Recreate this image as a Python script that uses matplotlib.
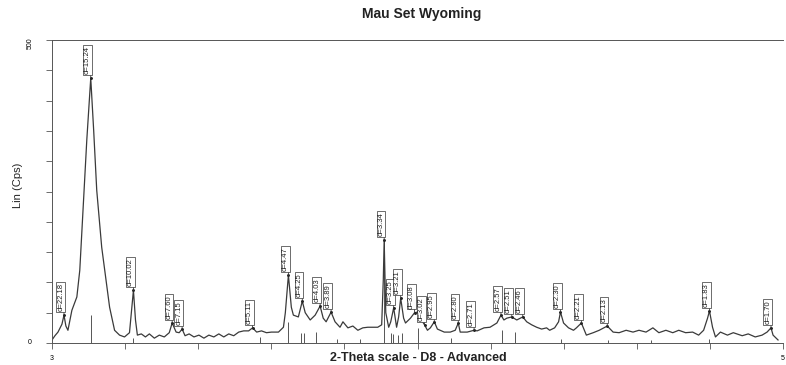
import matplotlib
matplotlib.use("Agg")
import matplotlib.pyplot as plt

plt.rcParams['font.family'] = ['Liberation Sans', 'DejaVu Sans']

# ---- data (2-theta, Lin (Cps)) ----
two_theta = [3.00, 3.20, 3.41, 3.68, 3.82, 3.95, 4.09, 4.36, 4.70, 4.90, 5.11, 5.38, 5.65,
             5.85, 6.06, 6.40, 6.67, 6.94, 7.28, 7.62, 7.96, 8.30, 8.43, 8.57, 8.71, 8.84,
             9.11, 9.39, 9.66, 10.00, 10.34, 10.68, 11.02, 11.22, 11.49, 11.70, 11.90, 12.10,
             12.38, 12.71, 13.05, 13.39, 13.73, 14.07, 14.41, 14.75, 15.09, 15.43, 15.77,
             16.11, 16.45, 16.72, 17.00, 17.33, 17.67, 18.01, 18.49, 18.83, 18.96, 19.17,
             19.37, 19.51, 19.85, 20.12, 20.32, 20.66, 21.00, 21.34, 21.55, 21.75, 22.09,
             22.36, 22.70, 22.90, 23.24, 23.58, 23.92, 24.26, 24.60, 24.94, 25.28, 25.55,
             25.66, 25.72, 25.83, 26.03, 26.17, 26.37, 26.57, 26.71, 26.85, 27.05, 27.18,
             27.52, 27.80, 28.00, 28.20, 28.48, 28.68, 28.88, 29.15, 29.36, 29.83, 30.24,
             30.58, 30.79, 30.92, 31.40, 31.87, 32.08, 32.55, 32.96, 33.43, 33.71, 33.91,
             34.11, 34.45, 34.79, 35.20, 35.47, 35.81, 36.15, 36.49, 36.83, 37.04, 37.38,
             37.65, 37.78, 37.99, 38.33, 38.67, 38.87, 39.21, 39.55, 40.02, 40.43, 40.98,
             41.38, 41.79, 42.27, 42.74, 43.15, 43.63, 44.10, 44.51, 44.99, 45.46, 45.87,
             46.34, 46.82, 47.23, 47.57, 47.84, 47.97, 48.18, 48.38, 48.72, 49.20, 49.60,
             50.21, 50.62, 51.10, 51.57, 51.91, 52.18, 52.32, 52.66]
counts = [5, 12, 18, 31, 46, 28, 21, 54, 76, 120, 215, 335, 437,
          351, 252, 158, 109, 59, 21, 13, 10, 17, 50, 87, 38, 13,
          15, 10, 15, 8, 13, 10, 17, 33, 18, 17, 23, 12,
          15, 10, 13, 8, 13, 10, 15, 10, 15, 12, 18,
          20, 20, 25, 18, 20, 17, 18, 18, 26, 50, 112,
          59, 46, 43, 69, 50, 38, 46, 61, 41, 35, 51,
          35, 26, 35, 25, 28, 21, 25, 26, 26, 26, 30,
          104, 170, 50, 26, 35, 58, 26, 43, 74, 41, 33,
          41, 50, 51, 41, 30, 21, 25, 35, 23, 18, 18,
          21, 33, 18, 18, 21, 20, 25, 26, 33, 46, 38,
          41, 43, 38, 43, 35, 30, 26, 23, 25, 21, 25,
          35, 51, 33, 25, 21, 25, 33, 13, 17, 21, 28,
          18, 17, 21, 18, 21, 18, 25, 17, 21, 17, 21,
          17, 18, 13, 21, 41, 53, 26, 10, 18, 13, 17,
          12, 15, 10, 13, 18, 25, 13, 5]

# labelled peaks
peak_theta = [3.82, 5.65, 8.57, 11.22, 11.90, 16.72, 19.17, 20.12, 21.34, 22.09, 25.72,
              26.37, 26.85, 27.80, 28.48, 29.15, 30.79, 31.87, 33.71, 34.45, 35.20,
              37.78, 39.21, 40.98, 47.97, 52.18]
peak_counts = [46, 437, 87, 33, 23, 25, 112, 69, 61, 51, 170,
               58, 74, 50, 30, 35, 33, 21, 46, 43, 43,
               51, 33, 28, 53, 25]
peak_labels = ["d=22.18", "d=15.24", "d=10.02", "d=7.60", "d=7.15", "d=5.11", "d=4.47",
               "d=4.25", "d=4.03", "d=3.89", "d=3.34", "d=3.25", "d=3.21", "d=3.08",
               "d=3.02", "d=2.95", "d=2.80", "d=2.71", "d=2.57", "d=2.51", "d=2.46",
               "d=2.30", "d=2.21", "d=2.13", "d=1.83", "d=1.70"]

# reference pattern sticks
stick_theta = [5.65, 19.17, 25.72, 28.00, 33.78, 34.66, 20.05, 20.25, 21.07, 26.20, 26.30,
               26.70, 26.95, 17.25, 8.57, 22.50, 24.10, 30.30, 37.80, 41.00, 44.00, 47.97]
stick_counts = [46, 35, 170, 25, 21, 18, 17, 16, 18, 16, 15,
                14, 16, 10, 8, 6, 7, 8, 7, 5, 5, 6]

# ---- figure ----
W, H = 786, 365
fig = plt.figure(figsize=(W / 100, H / 100), dpi=100)
ax = fig.add_axes([52 / W, (H - 343) / H, (783 - 52) / W, (343 - 40) / H])

ax.vlines(stick_theta, 0, stick_counts, color='#555555', lw=0.7)
ax.plot(two_theta, counts, color='#3a3a3a', lw=0.9)

for t, c, lab in zip(peak_theta, peak_counts, peak_labels):
    ax.annotate('', xy=(t, c), xytext=(0, 3), textcoords='offset points',
                arrowprops=dict(arrowstyle='-', lw=0.6, color='#333333',
                                shrinkA=0, shrinkB=0))
    ax.annotate(lab, xy=(t, c), xytext=(0.2, 3), textcoords='offset points',
                rotation=90, ha='right', va='bottom', fontsize=5.5, color='#222222',
                bbox=dict(boxstyle='square,pad=0.12', fc='white', ec='#333333', lw=0.5))
    ax.plot([t], [c], marker='.', ms=2.2, color='#222222')

ax.set_xlim(3, 52.66)
ax.set_ylim(0, 500)
ax.spines['right'].set_visible(False)
for s in ['left', 'bottom', 'top']:
    ax.spines[s].set_color('#555555')
    ax.spines[s].set_linewidth(0.7)

ax.set_yticks(range(0, 501, 50))
ax.set_yticklabels([])
ax.set_xticks([3 + 5 * k for k in range(11)])
ax.set_xticklabels([])
ax.tick_params(axis='both', direction='out', length=4, width=0.6, color='#555555')

ax.text(-22 / 731, 0, '0', transform=ax.transAxes, fontsize=5, ha='center', va='center')
ax.text(-22 / 731, 0.99, '500', transform=ax.transAxes, fontsize=5, ha='center',
        va='center', rotation=90)
ax.text(0, -15 / 303, '3', transform=ax.transAxes, fontsize=5, ha='center', va='center')
ax.text(1, -15 / 303, '5', transform=ax.transAxes, fontsize=5, ha='center', va='center')

fig.text(18 / W, 1 - 185 / H, 'Lin (Cps)', rotation=90, ha='center', va='center',
         fontsize=8, color='#222222')
fig.text(418 / W, 1 - 364 / H, '2-Theta scale - D8 - Advanced', ha='center', va='bottom',
         fontsize=9, fontweight='bold', color='#222222')
fig.text(422 / W, 1 - 14 / H, 'Mau Set Wyoming', ha='center', va='center',
         fontsize=10, fontweight='bold', color='#222222')

fig.savefig('out.png', dpi=100, facecolor='white')
